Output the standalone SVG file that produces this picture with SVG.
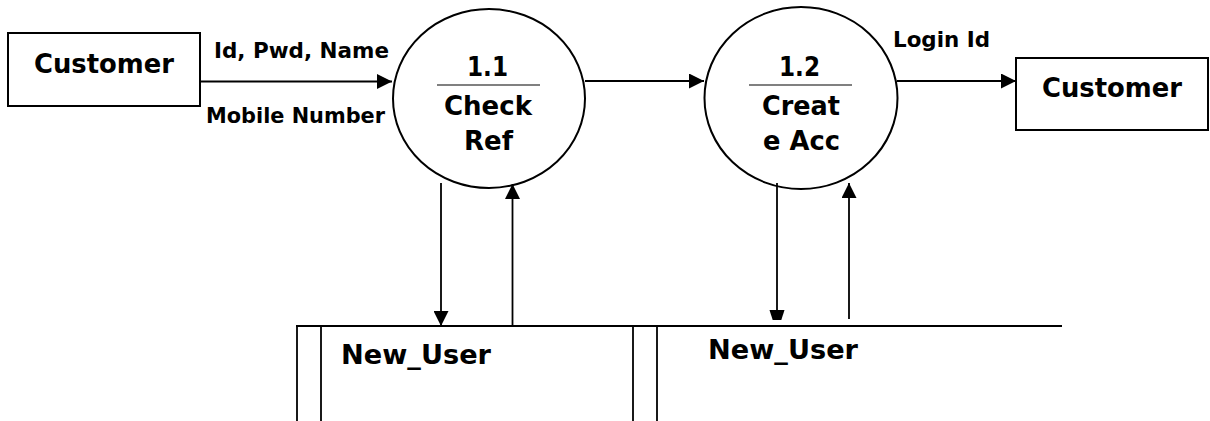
<svg xmlns="http://www.w3.org/2000/svg" width="1210" height="421" viewBox="0 0 1210 421">
<style>
  .bg { fill: #ffffff; }
  .box { fill: #ffffff; stroke: #000000; stroke-width: 2; }
  .proc { fill: #ffffff; stroke: #000000; stroke-width: 2; }
  .div { stroke: #808080; stroke-width: 2; }
  .store { stroke: #000000; stroke-width: 1.8; fill: none; }
  .flow { stroke: #000000; stroke-width: 1.8; fill: none; }
  .big { font-family: "DejaVu Sans", "Liberation Sans", sans-serif; font-weight: bold; font-size: 27px; fill: #000000; }
  .lbl { font-family: "DejaVu Sans", "Liberation Sans", sans-serif; font-weight: bold; font-size: 21.5px; fill: #000000; }
</style>
<defs>
  <marker id="arrow" markerUnits="userSpaceOnUse" markerWidth="15" markerHeight="15" viewBox="0 0 15 15" refX="15" refY="7.5" orient="auto">
    <path d="M0,0 L15,7.5 L0,15 Z" fill="#000000"/>
  </marker>
</defs>
<rect class="bg" x="0" y="0" width="1210" height="421"/>

<g id="customer1">
  <rect class="box" x="8" y="33" width="192" height="73"/>
  <text class="big" x="34" y="73" textLength="140" lengthAdjust="spacingAndGlyphs">Customer</text>
</g>

<g id="proc1">
  <ellipse class="proc" cx="489" cy="98.5" rx="96" ry="89.5"/>
  <line class="div" x1="437" y1="85" x2="540" y2="85"/>
  <text class="big" x="467" y="76" textLength="41" lengthAdjust="spacingAndGlyphs">1.1</text>
  <text class="big" x="444" y="115" textLength="88" lengthAdjust="spacingAndGlyphs">Check</text>
  <text class="big" x="464" y="150" textLength="49" lengthAdjust="spacingAndGlyphs">Ref</text>
</g>

<g id="proc2">
  <ellipse class="proc" cx="801" cy="98" rx="96.5" ry="91"/>
  <line class="div" x1="749" y1="85" x2="852" y2="85"/>
  <text class="big" x="779" y="76" textLength="41" lengthAdjust="spacingAndGlyphs">1.2</text>
  <text class="big" x="762" y="115" textLength="78" lengthAdjust="spacingAndGlyphs">Creat</text>
  <text class="big" x="763" y="150" textLength="77" lengthAdjust="spacingAndGlyphs">e Acc</text>
</g>

<g id="customer2">
  <rect class="box" x="1016" y="58" width="192" height="72"/>
  <text class="big" x="1042" y="97" textLength="140" lengthAdjust="spacingAndGlyphs">Customer</text>
</g>

<g id="store1">
  <line class="store" x1="296" y1="326" x2="687" y2="326"/>
  <line class="store" x1="297" y1="326" x2="297" y2="421"/>
  <line class="store" x1="321" y1="326" x2="321" y2="421"/>
  <text class="big" x="341" y="364" textLength="150" lengthAdjust="spacingAndGlyphs">New_User</text>
</g>

<g id="store2">
  <line class="store" x1="633" y1="326" x2="1062" y2="326"/>
  <line class="store" x1="633" y1="326" x2="633" y2="421"/>
  <line class="store" x1="657" y1="326" x2="657" y2="421"/>
  <text class="big" x="708" y="359" textLength="150" lengthAdjust="spacingAndGlyphs">New_User</text>
</g>

<g id="connectors">
  <line class="flow" x1="200" y1="81.5" x2="392" y2="81.5" marker-end="url(#arrow)"/>
  <line class="flow" x1="585" y1="81" x2="704" y2="81" marker-end="url(#arrow)"/>
  <line class="flow" x1="897" y1="81" x2="1016" y2="81" marker-end="url(#arrow)"/>
  <line class="flow" x1="441" y1="183" x2="441" y2="326" marker-end="url(#arrow)"/>
  <line class="flow" x1="512.5" y1="326" x2="512.5" y2="184" marker-end="url(#arrow)"/>
  <line class="flow" x1="777" y1="183" x2="777" y2="311"/>
  <polygon points="769.5,310 784.5,310 781.3,320 772.7,320" fill="#000000"/>
  <line class="flow" x1="849" y1="319" x2="849" y2="183" marker-end="url(#arrow)"/>
  <text class="lbl" x="214" y="58" textLength="175" lengthAdjust="spacingAndGlyphs">Id, Pwd, Name</text>
  <text class="lbl" x="206" y="123" textLength="179" lengthAdjust="spacingAndGlyphs">Mobile Number</text>
  <text class="lbl" x="893" y="47" textLength="97" lengthAdjust="spacingAndGlyphs">Login Id</text>
</g>
</svg>
